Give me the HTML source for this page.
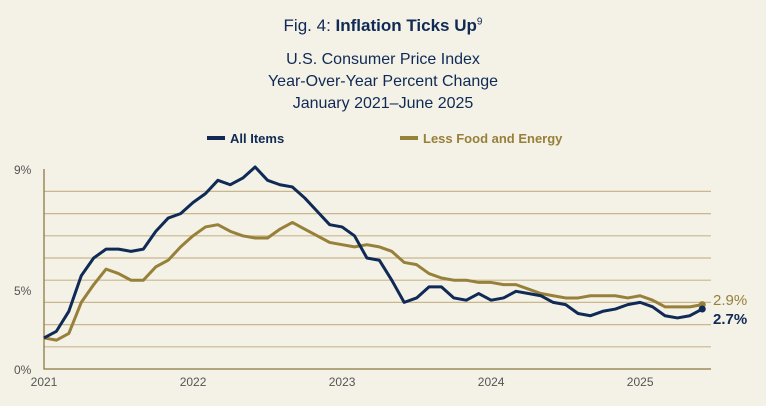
<!DOCTYPE html>
<html><head><meta charset="utf-8"><style>
body{margin:0;width:766px;height:406px;background:#f4f1e6;font-family:"Liberation Sans",sans-serif;overflow:hidden}
.t{position:absolute;width:766px;text-align:center;color:#0f2a55}
</style></head><body>
<div class="t" style="top:16px;font-size:17px">Fig. 4: <b>Inflation Ticks Up</b><sup style="font-size:10px">9</sup></div>
<div class="t" style="top:49px;font-size:16px;line-height:22px">U.S. Consumer Price Index<br>Year-Over-Year Percent Change<br>January 2021–June 2025</div>
<svg id="c" width="766" height="406" style="position:absolute;left:0;top:0">
<g>
<line x1="207" y1="138" x2="225" y2="138" stroke="#0f2a55" stroke-width="4"/>
<text x="230" y="143" font-size="13" font-weight="bold" fill="#0f2a55" font-family="Liberation Sans">All Items</text>
<line x1="400" y1="138" x2="418" y2="138" stroke="#96803a" stroke-width="4"/>
<text x="423" y="143" font-size="13" font-weight="bold" fill="#96803a" font-family="Liberation Sans">Less Food and Energy</text>
</g>
<g id="grid"></g><g id="lines"></g>
</svg>
<script>
const years=["2021","2022","2023","2024","2025"];
const allItems=[1.4,1.7,2.6,4.2,5.0,5.4,5.4,5.3,5.4,6.2,6.8,7.0,7.5,7.9,8.5,8.3,8.6,9.1,8.5,8.3,8.2,7.7,7.1,6.5,6.4,6.0,5.0,4.9,4.0,3.0,3.2,3.7,3.7,3.2,3.1,3.4,3.1,3.2,3.5,3.4,3.3,3.0,2.9,2.5,2.4,2.6,2.7,2.9,3.0,2.8,2.4,2.3,2.4,2.7];
const core=[1.4,1.3,1.6,3.0,3.8,4.5,4.3,4.0,4.0,4.6,4.9,5.5,6.0,6.4,6.5,6.2,6.0,5.9,5.9,6.3,6.6,6.3,6.0,5.7,5.6,5.5,5.6,5.5,5.3,4.8,4.7,4.3,4.1,4.0,4.0,3.9,3.9,3.8,3.8,3.6,3.4,3.3,3.2,3.2,3.3,3.3,3.3,3.2,3.3,3.1,2.8,2.8,2.8,2.9];
const gridVals=[1,2,3,4,5,6,7,8];
const NS="http://www.w3.org/2000/svg";
const x=m=>44+m*12.42, y=v=>369-v*22.2;
const g=document.getElementById('grid'), L=document.getElementById('lines');
function mk(p,t,a){const e=document.createElementNS(NS,t);for(const k in a)e.setAttribute(k,a[k]);p.appendChild(e);return e;}
gridVals.forEach(v=>{const e=mk(g,'line',{x1:44,x2:711,y1:y(v),y2:y(v),stroke:'#c9b88e','stroke-width':1.2});

});
let ax=mk(g,'path',{d:'M44,169V369H711',fill:'none',stroke:'#8a7a40','stroke-width':1.3});


[["9%",9,174],["5%",null,295],["0%",0,374]].forEach(t=>{const e=mk(g,'text',{x:14,y:t[2],'font-size':12,fill:'#555','font-family':'Liberation Sans'});e.textContent=t[0];

});
years.forEach((yr,i)=>{const e=mk(g,'text',{x:x(i*12),y:386,'font-size':12,fill:'#555','text-anchor':'middle','font-family':'Liberation Sans'});e.textContent=yr;

});
function series(d,c,name,lab,ly){
const p=mk(L,'polyline',{points:d.map((v,i)=>x(i)+','+y(v)).join(' '),fill:'none',stroke:c,'stroke-width':3,'stroke-linejoin':'round'});


const n=d.length-1;
const dot=mk(L,'circle',{cx:x(n),cy:y(d[n]),r:3.5,fill:c});


const t=mk(L,'text',{x:713,y:ly,'font-size':15,fill:c,'font-weight':lab[1],'font-family':'Liberation Sans'});t.textContent=lab[0];

}
series(core,'#96803a','less-food-energy-line',[core[core.length-1].toFixed(1)+'%','normal'],305);
series(allItems,'#0f2a55','all-items-line',[allItems[allItems.length-1].toFixed(1)+'%','bold'],324);
</script>
</body></html>
